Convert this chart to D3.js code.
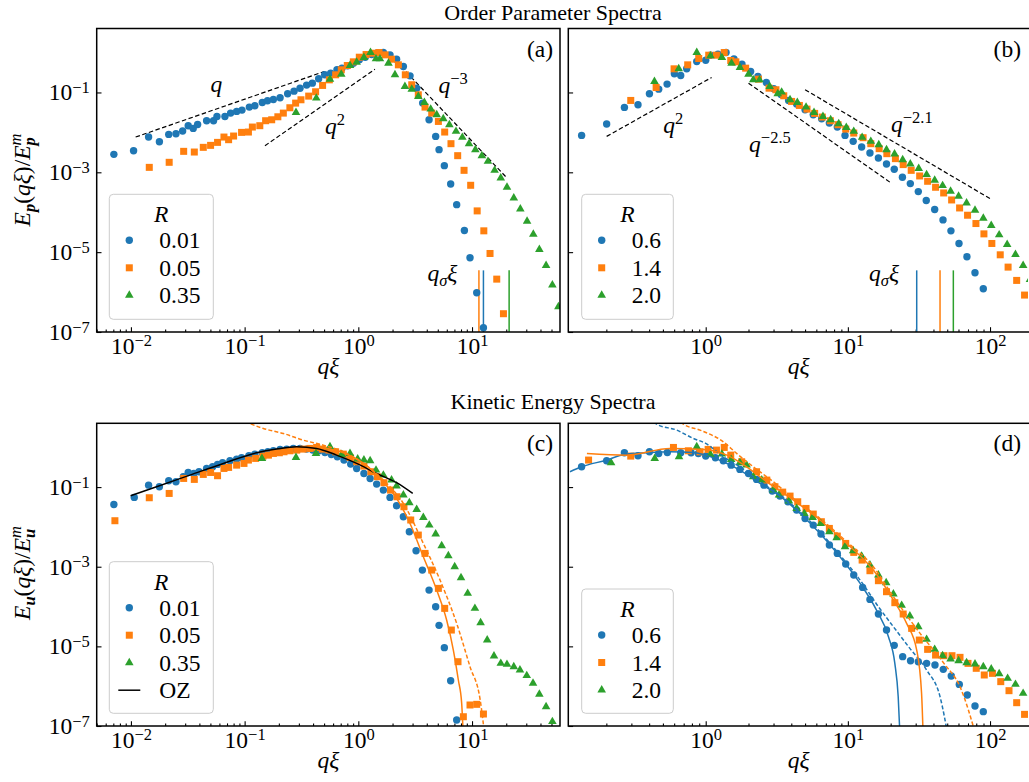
<!DOCTYPE html>
<html>
<head>
<meta charset="utf-8">
<script src="https://cdn.jsdelivr.net/npm/d3@7"></script>
<style>
body { margin: 0; background: #fff; }
</style>
</head>
<body>
<script>
// ---- data: [q*xi, E/E^m] ----
// (a) order parameter, R = 0.01 / 0.05 / 0.35
const aBlue = [[0.00708,2.82e-3],[0.01055,3.48e-3],[0.0143,7.64e-3],[0.0178,5.84e-3],[0.0215,8.91e-3],[0.0249,9.26e-3],[0.0285,0.0108],[0.0319,0.0147],[0.0353,0.0126],[0.0386,0.0158],[0.0463,0.0196],[0.0533,0.0196],[0.0571,0.0251],[0.0671,0.0251],[0.0753,0.0304],[0.0851,0.0335],[0.0948,0.0362],[0.110,0.043],[0.123,0.0464],[0.143,0.0562],[0.159,0.0619],[0.179,0.0668],[0.205,0.0736],[0.239,0.0926],[0.272,0.108],[0.307,0.128],[0.351,0.153],[0.394,0.171],[0.448,0.220],[0.506,0.277],[0.571,0.304],[0.649,0.369],[0.718,0.406],[0.805,0.464],[0.904,0.541],[1.02,0.656],[1.15,0.764],[1.31,0.891],[1.47,0.98],[1.66,1.0],[1.90,0.875],[2.17,0.681],[2.49,0.447],[2.85,0.261],[3.26,0.128],[3.68,0.0541],[4.19,0.0207],[4.79,7.94e-3],[5.13,3.69e-3],[5.71,1.47e-3],[6.49,5.11e-4],[7.33,1.55e-4],[8.57,3.48e-5],[9.60,7.22e-6],[11.0,9.62e-7],[12.6,1.28e-7]];
const aOrange = [[0.0145,1.33e-3],[0.0217,1.78e-3],[0.0291,3.35e-3],[0.0361,3.22e-3],[0.0433,4.22e-3],[0.0502,4.73e-3],[0.0578,5.62e-3],[0.0658,7.64e-3],[0.0723,6.56e-3],[0.080,8.10e-3],[0.094,0.0100],[0.108,0.0102],[0.117,0.0136],[0.136,0.0147],[0.153,0.0196],[0.173,0.0207],[0.196,0.0246],[0.219,0.0304],[0.250,0.0414],[0.281,0.0541],[0.313,0.0656],[0.366,0.0810],[0.421,0.104],[0.485,0.150],[0.556,0.207],[0.632,0.277],[0.708,0.369],[0.800,0.473],[0.904,0.585],[1.02,0.764],[1.17,0.891],[1.34,0.962],[1.52,1.0],[1.72,0.875],[1.96,0.681],[2.25,0.492],[2.59,0.277],[2.95,0.156],[3.37,0.0874],[3.86,0.0430],[4.42,0.0304],[5.06,0.0188],[5.75,0.0102],[6.53,5.21e-3],[7.48,2.61e-3],[8.51,1.12e-3],[9.73,4.73e-4],[11.1,1.08e-4],[12.7,3.42e-5],[14.4,9.26e-6],[16.5,2.11e-6],[18.9,2.87e-7]];
const aGreen = [[0.283,0.0316],[0.427,0.0722],[0.563,0.215],[0.708,0.287],[0.845,0.473],[0.967,0.573],[1.12,0.750],[1.28,1.0],[1.43,0.695],[1.55,0.695],[1.84,0.541],[2.10,0.277],[2.57,0.141],[2.95,0.121],[3.37,0.0794],[3.81,0.0562],[4.33,0.0383],[4.89,0.0277],[5.59,0.0220],[6.32,0.0156],[7.23,0.0106],[8.22,7.50e-3],[9.41,5.21e-3],[10.7,3.69e-3],[12.2,2.61e-3],[13.8,1.88e-3],[15.8,1.12e-3],[17.9,7.22e-4],[20.3,4.22e-4],[23.3,2.28e-4],[26.6,1.21e-4],[30.5,5.96e-5],[34.6,2.82e-5],[39.1,1.17e-5],[44.8,4.64e-6],[50.9,1.50e-6],[57.5,4.30e-7]];

// (b) order parameter, R = 0.6 / 1.4 / 2.0
const bBlue = [[0.134,8.41e-3],[0.201,0.0162],[0.268,0.0422],[0.334,0.0492],[0.402,0.0926],[0.467,0.121],[0.535,0.162],[0.602,0.293],[0.667,0.266],[0.735,0.391],[0.865,0.596],[1.0,0.643],[1.08,0.858],[1.22,0.908],[1.39,1.0],[1.58,0.695],[1.80,0.511],[2.07,0.335],[2.33,0.251],[2.67,0.178],[3.01,0.124],[3.39,0.0891],[3.83,0.0631],[4.36,0.0511],[5.00,0.0369],[5.71,0.0277],[6.54,0.0220],[7.41,0.0171],[8.43,0.0136],[9.55,8.41e-3],[10.9,5.96e-3],[12.5,4.30e-3],[14.3,3.04e-3],[16.4,2.28e-3],[18.7,1.61e-3],[21.2,1.19e-3],[24.2,7.50e-4],[27.5,5.21e-4],[31.3,3.29e-4],[35.6,1.96e-4],[40.8,1.17e-4],[46.7,6.43e-5],[53.1,3.42e-5],[60.5,1.65e-5],[68.8,7.64e-6],[78.4,3.04e-6],[89.7,1.21e-6]];
const bOrange = [[0.297,0.0631],[0.448,0.133],[0.599,0.391],[0.747,0.492],[0.893,0.708],[1.05,0.858],[1.19,0.858],[1.35,1.0],[1.50,0.631],[1.63,0.585],[1.91,0.406],[2.35,0.215],[2.79,0.128],[3.12,0.117],[3.54,0.0826],[4.02,0.0596],[4.56,0.0473],[5.16,0.0383],[5.84,0.0299],[6.61,0.0242],[7.53,0.0196],[8.53,0.0156],[9.66,0.0121],[11.0,9.62e-3],[12.8,7.36e-3],[14.5,5.21e-3],[16.6,3.91e-3],[18.8,2.93e-3],[21.6,2.20e-3],[24.5,1.56e-3],[27.9,1.12e-3],[32.0,8.10e-4],[36.4,5.96e-4],[41.4,4.22e-4],[47.2,3.04e-4],[53.7,2.03e-4],[61.1,1.28e-4],[69.5,8.41e-5],[79.6,5.21e-5],[90.6,2.87e-5],[103,1.65e-5],[118,8.58e-6],[134,4.22e-6],[154,1.96e-6],[175,8.41e-7]];
const bGreen = [[0.436,0.188],[0.646,0.391],[0.865,1.0],[1.08,0.826],[1.30,0.750],[1.52,0.541],[1.74,0.422],[2.00,0.287],[2.16,0.207],[2.39,0.207],[2.82,0.141],[3.21,0.0926],[3.42,0.102],[3.92,0.0656],[4.41,0.0562],[5.08,0.0430],[5.78,0.0316],[6.68,0.0251],[7.57,0.0207],[8.62,0.0165],[9.75,0.0133],[11.0,0.0106],[12.6,7.50e-3],[14.5,5.96e-3],[16.5,4.92e-3],[18.7,3.69e-3],[21.3,2.87e-3],[24.3,2.07e-3],[27.5,1.61e-3],[31.5,1.24e-3],[35.8,8.75e-4],[40.8,6.31e-4],[46.4,4.64e-4],[52.8,3.35e-4],[60.1,2.51e-4],[68.4,1.71e-4],[78.4,1.12e-4],[89.7,7.08e-5],[102,4.64e-5],[116,2.71e-5],[132,1.56e-5],[151,8.75e-6],[171,4.64e-6],[191,2.07e-6]];

// (c) kinetic energy, R = 0.01 / 0.05 / 0.35
const cBlue = [[0.00708,0.0367],[0.0107,0.0551],[0.0143,0.112],[0.0178,0.102],[0.0215,0.144],[0.0249,0.136],[0.0289,0.182],[0.0319,0.233],[0.0358,0.220],[0.0397,0.243],[0.0463,0.294],[0.0523,0.324],[0.0578,0.371],[0.0640,0.408],[0.0743,0.458],[0.0851,0.505],[0.094,0.545],[0.109,0.612],[0.123,0.673],[0.143,0.728],[0.160,0.771],[0.179,0.817],[0.205,0.883],[0.234,0.900],[0.268,0.935],[0.307,0.935],[0.351,0.900],[0.397,0.849],[0.451,0.817],[0.509,0.741],[0.579,0.661],[0.654,0.578],[0.748,0.477],[0.857,0.378],[0.967,0.294],[1.12,0.220],[1.27,0.165],[1.45,0.119],[1.66,0.0841],[1.90,0.0551],[2.17,0.0340],[2.49,0.0180],[2.81,7.57e-3],[3.22,2.52e-3],[3.66,8.24e-4],[4.19,2.59e-4],[4.79,9.90e-5],[5.13,3.37e-5],[5.71,9.27e-6],[6.49,1.37e-6],[7.33,1.42e-7]];
const cOrange = [[0.00723,0.0143],[0.0145,0.0540],[0.0217,0.0693],[0.0291,0.165],[0.0361,0.156],[0.0433,0.208],[0.0502,0.233],[0.0578,0.193],[0.0658,0.294],[0.0723,0.312],[0.0851,0.356],[0.0987,0.393],[0.108,0.477],[0.125,0.525],[0.145,0.600],[0.162,0.635],[0.179,0.700],[0.202,0.728],[0.222,0.771],[0.250,0.817],[0.287,0.849],[0.328,0.900],[0.376,0.935],[0.430,0.99],[0.482,0.900],[0.552,0.849],[0.632,0.771],[0.738,0.673],[0.845,0.556],[0.967,0.433],[1.12,0.337],[1.29,0.243],[1.47,0.182],[1.68,0.129],[1.92,0.0841],[2.19,0.0572],[2.52,0.0321],[2.89,0.0149],[3.37,6.24e-3],[3.86,2.16e-3],[4.42,8.24e-4],[5.06,2.86e-4],[5.75,9.00e-5],[6.58,2.57e-5],[7.53,4.12e-6],[8.39,1.71e-7],[9.60,3.37e-7],[11.0,3.50e-7],[12.6,2.00e-7]];
const cGreen = [[0.142,0.525],[0.283,0.556],[0.424,0.700],[0.563,1.03],[0.714,0.661],[0.845,0.700],[0.987,0.505],[1.12,0.477],[1.27,0.458],[1.43,0.267],[1.66,0.200],[1.96,0.150],[2.17,0.106],[2.49,0.0630],[2.81,0.0404],[3.26,0.0275],[3.73,0.0173],[4.21,0.0111],[4.79,6.61e-3],[5.41,3.37e-3],[6.19,1.89e-3],[7.04,1.0e-3],[8.00,5.30e-4],[9.16,2.14e-4],[10.6,9.00e-5],[11.9,3.93e-5],[13.6,1.44e-5],[15.6,5.71e-6],[17.9,3.74e-6],[20.3,3.53e-6],[23.3,3.09e-6],[26.4,2.55e-6],[30.3,1.84e-6],[34.4,1.18e-6],[39.1,6.24e-7],[44.8,3.05e-7],[50.9,1.29e-7]];
const cOZ = [[0.00993,0.0605],[0.0168,0.102],[0.0330,0.200],[0.0649,0.393],[0.128,0.728],[0.191,0.900],[0.287,1.03],[0.430,0.935],[0.644,0.635],[0.967,0.393],[1.45,0.220],[2.17,0.129],[3.01,0.0693]];
const cFitOrange = [[0.492,0.97],[0.738,0.728],[1.11,0.393],[1.66,0.136],[2.17,0.0519],[2.85,0.0122],[3.73,1.78e-3],[4.89,2.59e-4],[5.98,4.58e-5],[6.85,8.09e-6],[7.58,1.43e-6],[8.11,3.71e-7],[8.39,5e-8]];
const cFitOrangeDash = [[0.09,5.2],[0.111,3.96],[0.146,2.97],[0.219,2.22],[0.328,1.51],[0.492,1.13],[0.738,0.771],[1.11,0.393],[1.66,0.150],[2.49,0.0389],[3.73,3.85e-3],[5.23,4.62e-4],[7.33,3.77e-5],[9.60,3.09e-6],[11.8,4.5e-7],[13.0,5e-8]];

// (d) kinetic energy, R = 0.6 / 1.4 / 2.0
const dBlue = [[0.134,0.324],[0.201,0.458],[0.268,0.728],[0.334,0.612],[0.402,0.771],[0.467,0.700],[0.537,0.741],[0.667,0.728],[0.789,0.728],[0.888,0.700],[1.0,0.600],[1.17,0.545],[1.33,0.458],[1.51,0.356],[1.74,0.278],[2.00,0.220],[2.28,0.156],[2.57,0.112],[2.94,0.0794],[3.33,0.0594],[3.79,0.0428],[4.36,0.0265],[5.00,0.0163],[5.71,0.0111],[6.47,6.61e-3],[7.41,3.50e-3],[8.43,2.16e-3],[9.66,1.17e-3],[11.0,6.18e-4],[12.7,3.03e-4],[14.3,1.51e-4],[16.4,6.49e-5],[18.7,2.57e-5],[21.2,1.06e-5],[24.3,5.51e-6],[27.6,4.37e-6],[31.3,4.12e-6],[35.8,3.74e-6],[41.0,3.40e-6],[46.9,2.65e-6],[53.4,1.80e-6],[60.8,1.11e-6],[69.2,6.00e-7],[78.4,3.18e-7],[89.7,2.29e-7]];
const dOrange = [[0.150,0.477],[0.297,0.600],[0.593,0.99],[0.755,0.817],[0.912,0.771],[1.04,0.883],[1.19,0.849],[1.35,0.99],[1.50,0.635],[1.79,0.433],[2.28,0.243],[2.69,0.150],[3.07,0.102],[3.48,0.0748],[3.92,0.0594],[4.44,0.0428],[5.08,0.0291],[5.71,0.0210],[6.51,0.0135],[7.41,9.16e-3],[8.43,5.89e-3],[9.66,3.85e-3],[11.0,2.29e-3],[12.6,1.47e-3],[14.3,7.94e-4],[16.4,4.46e-4],[18.7,2.36e-4],[21.4,1.25e-4],[24.5,6.49e-5],[28.1,2.83e-5],[31.8,1.44e-5],[36.4,8.41e-6],[41.4,6.05e-6],[47.4,5.83e-6],[54.0,5.83e-6],[61.5,5.30e-6],[70.0,3.74e-6],[80.0,2.81e-6],[91.1,1.91e-6],[104,2.10e-6],[119,1.30e-6],[136,7.71e-7],[154,3.85e-7],[175,1.96e-7]];
const dGreen = [[0.216,0.408],[0.438,0.525],[0.649,0.578],[0.865,1.03],[1.08,0.661],[1.30,0.673],[1.51,0.495],[1.74,0.408],[1.94,0.356],[2.16,0.182],[2.48,0.150],[2.99,0.0841],[3.28,0.0630],[3.85,0.0446],[4.36,0.0291],[4.94,0.0218],[5.65,0.0173],[6.44,0.0122],[7.41,7.57e-3],[8.34,5.35e-3],[9.55,3.18e-3],[10.9,2.52e-3],[12.5,1.85e-3],[14.3,1.10e-3],[16.4,6.18e-4],[18.6,3.96e-4],[20.9,2.06e-4],[23.9,1.07e-4],[27.3,5.78e-5],[31.3,3.12e-5],[35.8,1.50e-5],[40.8,8.41e-6],[46.4,5.83e-6],[52.8,4.81e-6],[60.1,4.37e-6],[68.4,3.89e-6],[78.4,3.60e-6],[89.7,3.09e-6],[102,2.70e-6],[116,2.06e-6],[133,1.57e-6],[151,1.11e-6],[171,6.61e-7]];
const dFitBlue = [[0.111,0.243],[0.134,0.324],[0.201,0.477],[0.268,0.661],[0.385,0.728],[0.561,0.771],[0.819,0.741],[1.0,0.635],[1.33,0.433],[1.74,0.267],[2.41,0.124],[3.33,0.0594],[4.61,0.0218],[6.37,6.87e-3],[8.80,1.78e-3],[12.2,3.82e-4],[15.9,8.17e-5],[19.3,1.75e-5],[21.4,3.74e-6],[22.6,5.45e-7],[23.3,5e-8]];
const dFitBlueDash = [[0.40,5.5],[0.452,3.82],[0.625,2.70],[0.819,1.67],[1.0,1.25],[1.33,0.578],[1.74,0.324],[2.41,0.136],[3.33,0.0630],[4.61,0.0240],[6.37,7.57e-3],[8.80,1.96e-3],[12.2,4.62e-4],[16.4,9.9e-5],[20.9,3.12e-5],[27.3,8.9e-6],[35.8,2.55e-6],[44.5,5.45e-7],[50.9,5e-8]];
const dFitOrange = [[0.146,0.700],[0.278,0.635],[0.561,0.935],[0.963,0.883],[1.41,0.635],[1.94,0.324],[2.69,0.136],[4.14,0.0472],[6.37,0.0149],[9.81,3.85e-3],[15.1,8.24e-4],[20.9,1.46e-4],[25.9,3.77e-5],[30.5,8.09e-6],[33.0,6.61e-7],[33.9,5e-8]];
const dFitOrangeDash = [[0.62,5.5],[0.697,3.82],[0.912,2.70],[1.33,1.37],[1.65,0.700],[2.16,0.324],[2.99,0.136],[4.14,0.0519],[6.37,0.0163],[9.81,4.25e-3],[15.1,1.0e-3],[20.9,1.77e-4],[32.2,2.12e-5],[47.4,3.74e-6],[61.5,9.7e-7],[80.5,5e-8]];

// power-law guides and q_sigma markers
const aGuides = [[[0.011,7.64e-3],[0.502,0.335]], [[0.151,4.64e-3],[1.40,0.383]], [[1.96,0.794],[19.9,7.64e-4]]];
const bGuides = [[[0.201,7.94e-3],[1.10,0.237]], [[2.00,0.171],[19.8,5.62e-4]], [[5.00,0.117],[100,2.20e-4]]];
const aQsigma = [12.6, 11.5, 21.2];   // blue, orange, green
const bQsigma = [30.5, 44.5, 55.2];
const qSigmaTop = 3.5e-6;

const aR = ['0.01', '0.05', '0.35'];
const bR = ['0.6', '1.4', '2.0'];
const yTicks = [1e-1, 1e-3, 1e-5, 1e-7];
const yDomain = [1e-7, 4];

const blue = '#1f77b4', orange = '#ff7f0e', green = '#2ca02c';
const colors = [blue, orange, green];
const kinds = ['circle', 'square', 'triangle'];
const FONT = '"Liberation Serif", "Times New Roman", "DejaVu Serif", serif';
const FS = 23.5, FS_SMALL = 16.5, FS_TITLE = 22;

const svg = d3.select('body').append('svg')
    .attr('width', 1029)
    .attr('height', 782)
    .style('font-family', FONT);

// helper for texts with sub/superscripts: parts = [text, {i, b, dy, dx, s}]
function richText(sel, parts) {
    parts.forEach(p => {
        const ts = sel.append('tspan').text(p[0]);
        const o = p[1] || {};
        if (o.i) ts.style('font-style', 'italic');
        if (o.b) ts.style('font-weight', 'bold');
        if (o.dy) ts.attr('dy', o.dy);
        if (o.dx) ts.attr('dx', o.dx);
        if (o.s) ts.style('font-size', FS_SMALL + 'px');
    });
    return sel;
}

function powLabel(sel, d) {
    const e = Math.round(Math.log10(d));
    sel.text('');
    sel.append('tspan').text('10');
    sel.append('tspan').attr('dy', '-0.45em').style('font-size', FS_SMALL + 'px')
        .text(e < 0 ? '\u2212' + (-e) : String(e));
}

function drawMarkers(g, data, kind, color, x, y) {
    const sel = g.append('g').selectAll('.m').data(data);
    if (kind === 'circle') {
        sel.join('circle')
            .attr('cx', d => x(d[0])).attr('cy', d => y(d[1]))
            .attr('r', 3.7).attr('fill', color);
    } else if (kind === 'square') {
        sel.join('rect')
            .attr('x', d => x(d[0]) - 3.5).attr('y', d => y(d[1]) - 3.5)
            .attr('width', 7).attr('height', 7).attr('fill', color);
    } else {
        sel.join('path')
            .attr('d', d3.symbol(d3.symbolTriangle, 32))
            .attr('transform', d => `translate(${x(d[0])},${y(d[1])})`)
            .attr('fill', color);
    }
}

function drawPanel(p) {
    const x = d3.scaleLog().domain(p.xd).range([p.x0, p.xr]);
    const y = d3.scaleLog().domain(yDomain).range([p.y1, p.y0]);
    const g = svg.append('g');

    svg.append('clipPath').attr('id', 'clip' + p.id)
        .append('rect')
        .attr('x', p.x0).attr('y', p.y0)
        .attr('width', p.xr - p.x0).attr('height', p.y1 - p.y0);

    // ticks (inward)
    const lo = Math.floor(Math.log10(p.xd[0])), hi = Math.ceil(Math.log10(p.xd[1]));
    const majors = [], minors = [];
    for (let e = lo; e <= hi; e++) {
        const v = Math.pow(10, e);
        if (v >= p.xd[0] && v <= p.xd[1]) majors.push(v);
        for (let k = 2; k < 10; k++) {
            if (k * v >= p.xd[0] && k * v <= p.xd[1]) minors.push(k * v);
        }
    }
    g.append('g').attr('transform', `translate(0,${p.y1})`)
        .call(d3.axisBottom(x).tickValues(minors).tickSize(-2.6).tickFormat(''));
    const xa = g.append('g').attr('transform', `translate(0,${p.y1})`)
        .call(d3.axisBottom(x).tickValues(majors).tickSize(-4.8).tickPadding(5).tickFormat(''));
    xa.selectAll('.tick text').each(function (d) { powLabel(d3.select(this), d); });

    const ya = g.append('g').attr('transform', `translate(${p.x0},0)`)
        .call(d3.axisLeft(y).tickValues(yTicks).tickSize(-4.8).tickPadding(7).tickFormat(''));
    if (p.yLabels) {
        ya.selectAll('.tick text').each(function (d) { powLabel(d3.select(this), d); });
    }
    g.selectAll('.domain').remove();
    g.selectAll('.tick line').attr('stroke', '#000').attr('stroke-width', 1.1);
    // let the axis groups inherit the serif font
    xa.attr('font-family', null).attr('font-size', FS);
    ya.attr('font-family', null).attr('font-size', FS);
    g.selectAll('.tick text').attr('fill', '#000');

    const plot = g.append('g').attr('clip-path', `url(#clip${p.id})`);
    const line = d3.line().x(d => x(d[0])).y(d => y(d[1]));

    // guides
    (p.guides || []).forEach(gd => {
        plot.append('path').attr('d', line(gd))
            .attr('fill', 'none').attr('stroke', '#000')
            .attr('stroke-width', 1.2).attr('stroke-dasharray', '4.5,2.5');
    });

    // q_sigma lines
    if (p.qs) {
        p.qs.forEach((q, i) => {
            plot.append('line')
                .attr('x1', x(q)).attr('x2', x(q))
                .attr('y1', y(qSigmaTop)).attr('y2', p.y1)
                .attr('stroke', colors[i]).attr('stroke-width', 1.5);
        });
    }

    p.sets.forEach((s, i) => drawMarkers(plot, s, kinds[i], colors[i], x, y));

    // fitted curves on top
    (p.fits || []).forEach(f => {
        plot.append('path').attr('d', line.curve(d3.curveMonotoneX)(f.data))
            .attr('fill', 'none').attr('stroke', f.color)
            .attr('stroke-width', f.w || 1.5)
            .attr('stroke-dasharray', f.dash ? '4,2.2' : null);
    });

    // frame
    g.append('rect')
        .attr('x', p.x0).attr('y', p.y0)
        .attr('width', p.x1 - p.x0).attr('height', p.y1 - p.y0)
        .attr('fill', 'none').attr('stroke', '#000').attr('stroke-width', 1.5);

    // text annotations given in data coords
    (p.notes || []).forEach(n => {
        richText(g.append('text')
            .attr('x', x(n.at[0])).attr('y', y(n.at[1]))
            .attr('font-size', FS), n.parts);
    });

    // panel letter
    g.append('text')
        .attr('x', p.x1 > 1029 ? 1021 : p.x1 - 7).attr('y', p.y0 + 28)
        .attr('text-anchor', 'end').attr('font-size', FS)
        .text(p.letter);

    // x label
    richText(g.append('text')
        .attr('x', (p.x0 + Math.min(p.x1, 1029)) / 2).attr('y', p.y1 + 42)
        .attr('text-anchor', 'middle').attr('font-size', FS), [['q\u03be', { i: true }]]);

    // legend
    const L = p.legend;
    const lg = g.append('g');
    lg.append('rect')
        .attr('x', L.x).attr('y', L.y).attr('width', L.w).attr('height', L.h)
        .attr('rx', 4).attr('fill', '#fff').attr('fill-opacity', 0.8)
        .attr('stroke', '#cccccc').attr('stroke-width', 1);
    lg.append('text').attr('x', L.x + L.w / 2).attr('y', L.y + 28)
        .attr('text-anchor', 'middle').attr('font-size', FS)
        .style('font-style', 'italic').text('R');
    L.labels.forEach((lab, i) => {
        const cy = L.y + 46 + i * 27.5;
        const mx = L.x + 20;
        if (i < 3) {
            drawMarkers(lg, [[0, 0]], kinds[i], colors[i], () => mx, () => cy);
        } else {
            lg.append('line').attr('x1', mx - 11).attr('x2', mx + 11)
                .attr('y1', cy).attr('y2', cy)
                .attr('stroke', '#000').attr('stroke-width', 1.5);
        }
        lg.append('text').attr('x', L.x + 50).attr('y', cy + 8)
            .attr('font-size', FS).text(lab);
    });
}

const qSigmaParts = [['q', { i: true }], ['\u03c3', { i: true, s: true, dy: 5 }], ['\u03be', { i: true, dy: -5 }]];

drawPanel({
    id: 'a', letter: '(a)', x0: 96.7, x1: 560, xr: 560, y0: 28.5, y1: 332,
    xd: [0.005, 59.4], yLabels: true,
    sets: [aBlue, aOrange, aGreen], guides: aGuides, qs: aQsigma,
    notes: [
        { at: [0.05, 0.1], parts: [['q', { i: true }]] },
        { at: [0.509, 9.3e-3], parts: [['q', { i: true }], ['2', { s: true, dy: -9 }]] },
        { at: [5.06, 0.096], parts: [['q', { i: true }], ['\u22123', { s: true, dy: -9 }]] },
        { at: [4.05, 1.9e-6], parts: qSigmaParts }
    ],
    legend: { x: 109.3, y: 194.3, w: 104, h: 125, labels: aR }
});

drawPanel({
    id: 'b', letter: '(b)', x0: 568.3, x1: 1031, xr: 1028, y0: 28.5, y1: 332,
    xd: [0.108, 185], yLabels: false,
    sets: [bBlue, bOrange, bGreen], guides: bGuides, qs: bQsigma,
    notes: [
        { at: [0.503, 9.6e-3], parts: [['q', { i: true }], ['2', { s: true, dy: -9 }]] },
        { at: [2.02, 3.2e-3], parts: [['q', { i: true }], ['\u22122.5', { s: true, dy: -9 }]] },
        { at: [20.1, 0.0102], parts: [['q', { i: true }], ['\u22122.1', { s: true, dy: -9 }]] },
        { at: [14.1, 1.9e-6], parts: qSigmaParts }
    ],
    legend: { x: 581.7, y: 194.3, w: 91.6, h: 125, labels: bR }
});

drawPanel({
    id: 'c', letter: '(c)', x0: 96.7, x1: 560, xr: 560, y0: 423.3, y1: 726,
    xd: [0.005, 59.4], yLabels: true,
    sets: [cBlue, cOrange, cGreen],
    fits: [
        { data: cOZ, color: '#000' },
        { data: cFitOrange, color: orange },
        { data: cFitOrangeDash, color: orange, dash: true }
    ],
    legend: { x: 109.3, y: 561.7, w: 104, h: 151.6, labels: aR.concat(['OZ']) }
});

drawPanel({
    id: 'd', letter: '(d)', x0: 568.3, x1: 1031, xr: 1028, y0: 423.3, y1: 726,
    xd: [0.108, 185], yLabels: false,
    sets: [dBlue, dOrange, dGreen],
    fits: [
        { data: dFitBlue, color: blue },
        { data: dFitBlueDash, color: blue, dash: true },
        { data: dFitOrange, color: orange },
        { data: dFitOrangeDash, color: orange, dash: true }
    ],
    legend: { x: 581.7, y: 589, w: 91.6, h: 124.3, labels: bR }
});

// titles
svg.append('text').attr('x', 553).attr('y', 20).attr('text-anchor', 'middle')
    .attr('font-size', FS_TITLE).text('Order Parameter Spectra');
svg.append('text').attr('x', 553).attr('y', 409).attr('text-anchor', 'middle')
    .attr('font-size', FS_TITLE).text('Kinetic Energy Spectra');

// y axis labels
function yLabel(cy, sym) {
    richText(svg.append('text')
        .attr('transform', `translate(30,${cy}) rotate(-90)`)
        .attr('text-anchor', 'middle').attr('font-size', FS), [
        ['E', { i: true }], [sym, { i: true, b: true, s: true, dy: 5 }],
        ['(', { dy: -5 }], ['q\u03be', { i: true }], [')/'],
        ['E', { i: true }], ['m', { i: true, s: true, dy: -9 }],
        [sym, { i: true, b: true, s: true, dy: 14, dx: -12 }]
    ]);
}
yLabel(180, 'p');
yLabel(573, 'u');

svg.selectAll('text').style('font-family', FONT).attr('fill', '#000');
</script>
</body>
</html>
